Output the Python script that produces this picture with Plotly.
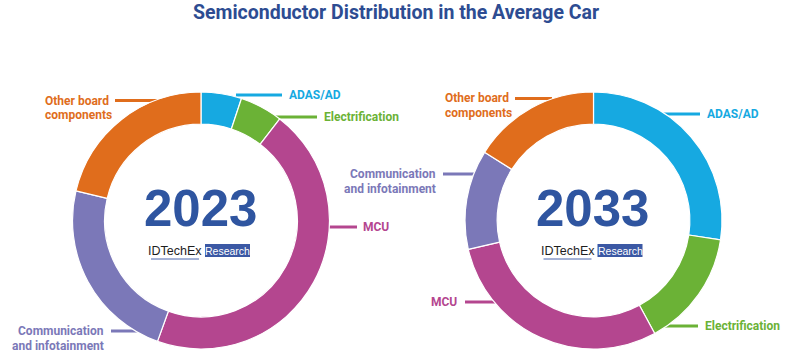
import plotly.graph_objects as go

W, H = 793, 362

categories = ["ADAS/AD", "Electrification", "MCU", "Communication<br>and infotainment", "Other board<br>components"]
colors = ["#16a9e1", "#6bb236", "#b4468f", "#7b78b8", "#e06d1c"]
values_2023 = [5.1, 5.4, 45.0, 23.2, 21.3]
values_2033 = [27.4, 14.7, 29.3, 12.5, 16.1]
years = ["2023", "2033"]

title_text = "Semiconductor Distribution in the Average Car"


def px(x):
    return x / W


def py(y):
    return 1 - y / H


centers = [(201, 220.5), (593.5, 220.5)]
R = 128.5

fig = go.Figure()
for (cx, cy), vals in zip(centers, [values_2023, values_2033]):
    fig.add_trace(go.Pie(
        labels=categories, values=vals, sort=False, direction="clockwise",
        rotation=0, hole=0.75, textinfo="none", hoverinfo="label+percent",
        marker=dict(colors=colors, line=dict(color="white", width=1.2)),
        domain=dict(x=[px(cx - R), px(cx + R)], y=[py(cy + R), py(cy - R)]),
        showlegend=False,
    ))

annotations = []
shapes = []

# label layout per chart: (category index, anchor, text x, first line y, line start x, line end x, line y)
layouts = [
    [
        (0, "left", 287, 95, 236, 282, 95),
        (1, "left", 322, 117, 270, 317, 117),
        (2, "left", 361, 227, 325, 357, 227),
        (3, "right", 106, 331, 111, 145, 331),
        (4, "left", 43, 100.5, 115, 162, 100.5),
    ],
    [
        (4, "left", 443, 98.5, 515, 552, 98.5),
        (0, "left", 705, 114, 660, 700, 114),
        (3, "right", 438, 174, 443, 478, 174),
        (2, "right", 459, 302, 465, 497, 302),
        (1, "left", 703, 326, 662, 698, 326),
    ],
]

for layout in layouts:
    for idx, anchor, tx, ty, lx0, lx1, ly in layout:
        col = colors[idx]
        for k, line in enumerate(categories[idx].split("<br>")):
            annotations.append(dict(
                x=px(tx), y=py(ty + k * 14.5), xref="paper", yref="paper",
                text=line, showarrow=False, xanchor=anchor, yanchor="middle",
                font=dict(family="Roboto", size=12, color=col, weight="bold"),
            ))
        shapes.append(dict(type="line", xref="paper", yref="paper",
                           x0=px(lx0), x1=px(lx1), y0=py(ly), y1=py(ly),
                           line=dict(color=col, width=3), layer="below"))

for (cx, cy), yr in zip(centers, years):
    annotations.append(dict(
        x=px(cx - 1), y=py(208), xref="paper", yref="paper", text=yr, showarrow=False,
        xanchor="center", yanchor="middle",
        font=dict(family="Liberation Sans", size=51, color="#2f55a0", weight="bold"),
    ))
    annotations.append(dict(
        x=px(cx - 26), y=py(250.5), xref="paper", yref="paper", text="IDTechEx",
        showarrow=False, xanchor="center", yanchor="middle",
        font=dict(family="Liberation Sans", size=12.5, color="#1e1e1e"),
    ))
    shapes.append(dict(type="line", xref="paper", yref="paper",
                       x0=px(cx - 50), x1=px(cx - 2), y0=py(259), y1=py(259),
                       line=dict(color="#4a66ad", width=1)))
    shapes.append(dict(type="rect", xref="paper", yref="paper",
                       x0=px(cx + 4), x1=px(cx + 49), y0=py(257), y1=py(244),
                       fillcolor="#3b58a4", line=dict(width=0)))
    annotations.append(dict(
        x=px(cx + 26.5), y=py(250.5), xref="paper", yref="paper", text="Research",
        showarrow=False, xanchor="center", yanchor="middle",
        font=dict(family="Liberation Sans", size=10.5, color="white"),
    ))

annotations.append(dict(
    x=px(396), y=py(12.5), xref="paper", yref="paper", text=title_text, showarrow=False,
    xanchor="center", yanchor="middle",
    font=dict(family="Roboto", size=19.5, color="#2d4c92", weight="bold"),
))

fig.update_layout(
    width=W, height=H, margin=dict(l=0, r=0, t=0, b=0),
    paper_bgcolor="white", plot_bgcolor="white",
    annotations=annotations, shapes=shapes,
)

fig.write_html("out.html", config={"displayModeBar": False},
               post_script="document.body.style.margin='0';")
